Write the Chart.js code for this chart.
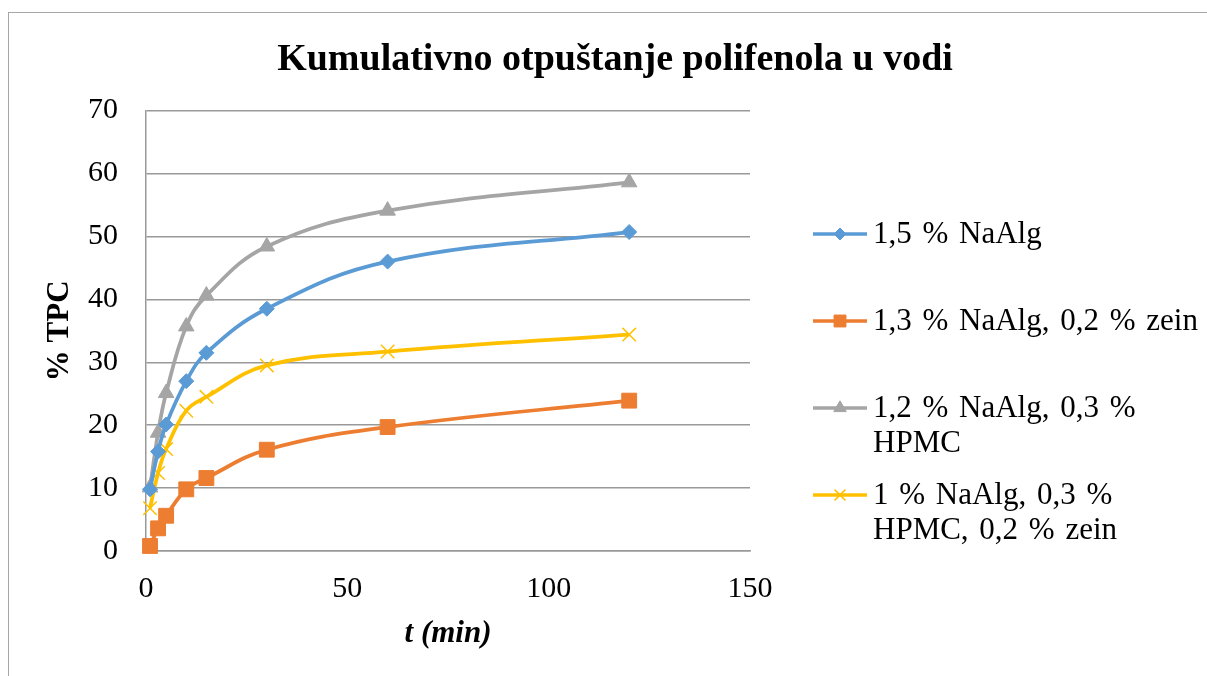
<!DOCTYPE html>
<html>
<head>
<meta charset="utf-8">
<script src="https://cdn.jsdelivr.net/npm/chart.js@4.4.1/dist/chart.umd.min.js"></script>
<style>
  html, body { margin: 0; padding: 0; background: #ffffff; overflow: hidden; }
  #frame { position: absolute; left: 8px; top: 12px; width: 1400px; height: 900px; border: 1.5px solid #a6a6a6; box-sizing: border-box; }
  #wrap { position: absolute; left: 0; top: 0; width: 1207px; height: 676px; }
</style>
</head>
<body>
<div id="frame"></div>
<div id="wrap"><canvas id="c" width="1207" height="676"></canvas></div>
<script>
// ---- data ----
const times = [1, 3, 5, 10, 15, 30, 60, 120];
const naAlg15 = [9.8, 15.8, 20.1, 27.0, 31.5, 38.5, 46.0, 50.7];
const naAlg13Zein = [0.8, 3.6, 5.6, 9.8, 11.6, 16.1, 19.7, 23.9];
const naAlg12Hpmc = [10.1, 18.8, 25.1, 35.7, 40.6, 48.4, 54.1, 58.6];
const naAlg10HpmcZein = [6.8, 12.4, 16.2, 22.3, 24.5, 29.5, 31.7, 34.4];

const seriesLabels = [
  ["1,5 % NaAlg"],
  ["1,3 % NaAlg, 0,2 % zein"],
  ["1,2 % NaAlg, 0,3 %", "HPMC"],
  ["1 % NaAlg, 0,3 %", "HPMC, 0,2 % zein"]
];
const xTicks = [0, 50, 100, 150];
const yTicks = [0, 10, 20, 30, 40, 50, 60, 70];
const chartTitle = "Kumulativno otpuštanje polifenola u vodi";
const xTitle = "t (min)";
const yTitle = "% TPC";

const FONT = "'Liberation Serif', 'Times New Roman', serif";
const toPts = vals => times.map((t, i) => ({ x: t, y: vals[i] }));

const styles = [
  { color: '#5B9BD5', pointStyle: 'rectRot', radius: 7.5, pbw: 1 },
  { color: '#ED7D31', pointStyle: 'rect', radius: 10.5, pbw: 1 },
  { color: '#A5A5A5', pointStyle: 'triangle', radius: 9, pbw: 1 },
  { color: '#FFC000', pointStyle: 'crossRot', radius: 9.5, pbw: 1.5 }
];
const seriesValues = [naAlg15, naAlg13Zein, naAlg12Hpmc, naAlg10HpmcZein];

const datasets = seriesValues.map((vals, i) => ({
  label: seriesLabels[i].join(' '),
  data: toPts(vals),
  borderColor: styles[i].color,
  backgroundColor: styles[i].color,
  pointBackgroundColor: styles[i].color,
  pointBorderColor: styles[i].color,
  pointStyle: styles[i].pointStyle,
  pointRadius: styles[i].radius,
  pointBorderWidth: styles[i].pbw,
  borderWidth: 3.75,
  tension: 0.4,
  fill: false,
  clip: false,
  yAxisID: 'y'
}));

const legendPlugin = {
  id: 'customLegend',
  afterDraw(chart) {
    const ctx = chart.ctx;
    const x0 = 813, x1 = 867, tx = 873;
    const top = 234, step = 87, lineGap = 35;
    ctx.save();
    chart.data.datasets.forEach((ds, i) => {
      const y = top + i * step;
      ctx.strokeStyle = ds.borderColor;
      ctx.lineWidth = 3.5;
      ctx.beginPath();
      ctx.moveTo(x0, y);
      ctx.lineTo(x1, y);
      ctx.stroke();
      ctx.fillStyle = ds.pointBackgroundColor;
      ctx.strokeStyle = ds.pointBorderColor;
      ctx.lineWidth = ds.pointBorderWidth;
      Chart.helpers.drawPoint(ctx, {
        pointStyle: ds.pointStyle,
        radius: ds.pointRadius * 0.8,
        rotation: 0,
        borderWidth: ds.pointBorderWidth
      }, (x0 + x1) / 2, y);
      ctx.fillStyle = '#000000';
      ctx.font = "31px " + FONT;
      ctx.textAlign = 'left';
      ctx.textBaseline = 'middle';
      try { ctx.wordSpacing = '3px'; } catch (e) {}
      seriesLabels[i].forEach((line, k) => {
        ctx.fillText(line, tx, y + 1 + k * lineGap);
      });
    });
    ctx.restore();
  }
};

new Chart(document.getElementById('c'), {
  type: 'line',
  data: { datasets },
  options: {
    responsive: false,
    animation: false,
    devicePixelRatio: 1,
    layout: { padding: { left: 23, right: 0, top: 0, bottom: 0 } },
    plugins: {
      legend: { display: false },
      tooltip: { enabled: false },
      title: {
        display: true,
        text: chartTitle,
        color: '#000000',
        font: { family: FONT, size: 38, weight: 'bold' },
        padding: { top: 37, bottom: 28 }
      }
    },
    scales: {
      x: {
        type: 'linear',
        min: 0, max: 150,
        afterBuildTicks: s => { s.ticks = xTicks.map(v => ({ value: v })); },
        afterFit: s => { s.height = 125; },
        grid: { display: false, drawTicks: false },
        border: { display: true, color: '#999999', width: 1.5 },
        ticks: { color: '#000000', padding: 20, font: { family: FONT, size: 30 } },
        title: {
          display: true, text: xTitle, color: '#000000',
          font: { family: FONT, size: 31, weight: 'bold', style: 'italic' },
          padding: { top: 0, bottom: 23 }
        }
      },
      y: {
        type: 'linear',
        position: 'left',
        min: 0, max: 70,
        afterBuildTicks: s => { s.ticks = yTicks.map(v => ({ value: v })); },
        afterFit: s => { s.width = 123; },
        grid: { color: '#999999', lineWidth: 1.5, drawTicks: false },
        border: { display: true, color: '#999999', width: 1.5 },
        ticks: { color: '#000000', padding: 28, font: { family: FONT, size: 30 } },
        title: {
          display: true, text: yTitle, color: '#000000',
          font: { family: FONT, size: 31, weight: 'bold' },
          padding: { top: 18, bottom: 0 }
        }
      },
      legendSpace: {
        type: 'linear',
        position: 'right',
        display: true,
        afterFit: s => { s.width = 457; },
        grid: { display: false, drawTicks: false },
        border: { display: false },
        ticks: { display: false }
      }
    }
  },
  plugins: [legendPlugin]
});
</script>
</body>
</html>
